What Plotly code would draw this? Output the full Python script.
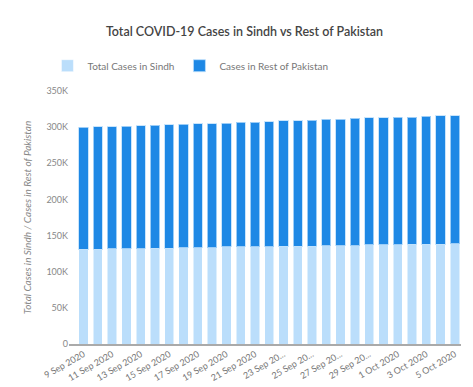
import plotly.graph_objects as go

dates = ["9 Sep 2020", "10 Sep 2020", "11 Sep 2020", "12 Sep 2020", "13 Sep 2020",
         "14 Sep 2020", "15 Sep 2020", "16 Sep 2020", "17 Sep 2020", "18 Sep 2020",
         "19 Sep 2020", "20 Sep 2020", "21 Sep 2020", "22 Sep 2020", "23 Sep 2020",
         "24 Sep 2020", "25 Sep 2020", "26 Sep 2020", "27 Sep 2020", "28 Sep 2020",
         "29 Sep 2020", "30 Sep 2020", "1 Oct 2020", "2 Oct 2020", "3 Oct 2020",
         "4 Oct 2020", "5 Oct 2020"]

sindh_cases = [131000, 131100, 131900, 132000, 132100, 132200, 132300, 133300, 133400,
               133500, 134200, 134300, 134400, 134500, 135100, 135200, 135300, 135600,
               135700, 135800, 137300, 137400, 137500, 137800, 137900, 138000, 138800]

total_cases = [299700, 300500, 300600, 301500, 301600, 302900, 303000, 303800, 304700,
               304800, 305600, 306900, 307000, 307800, 308700, 308800, 309600, 310900,
               311000, 312300, 312700, 312800, 313600, 313700, 315000, 315900, 316000]

rest_cases = [t - s for t, s in zip(total_cases, sindh_cases)]

tick_dates = dates[::2]
tick_labels = ["9 Sep 2020", "11 Sep 2020", "13 Sep 2020", "15 Sep 2020", "17 Sep 2020",
               "19 Sep 2020", "21 Sep 2020", "23 Sep 20...", "25 Sep 20...", "27 Sep 20...",
               "29 Sep 20...", "1 Oct 2020", "3 Oct 2020", "5 Oct 2020"]

y_tick_vals = [0, 50000, 100000, 150000, 200000, 250000, 300000, 350000]
y_tick_text = ["0", "50K", "100K", "150K", "200K", "250K", "300K", "350K"]

font_family = "Lato, 'Open Sans', sans-serif"

fig = go.Figure()
fig.add_trace(go.Bar(
    x=dates, y=sindh_cases, name="Total Cases in Sindh",
    marker=dict(color="#bbdefb", line=dict(color="rgba(255,255,255,0.5)", width=1)),
))
fig.add_trace(go.Bar(
    x=dates, y=rest_cases, name="Cases in Rest of Pakistan",
    marker=dict(color="#1e88e5", line=dict(color="rgba(187,222,251,0.8)", width=1)),
))

fig.update_layout(
    barmode="stack",
    bargap=0.35,
    width=473, height=387,
    paper_bgcolor="white", plot_bgcolor="white",
    margin=dict(l=61, r=20, t=83, b=44),
    font=dict(family=font_family, color="#777", size=9),
    title=dict(text="Total COVID-19 Cases in Sindh vs Rest of Pakistan",
               x=0.5, xanchor="center", y=0.94, yanchor="middle",
               font=dict(size=12.5, color="#444", family=font_family, weight=600)),
    legend=dict(orientation="h", x=-0.055, xanchor="left", y=1.1, yanchor="middle",
                font=dict(size=10, color="#777"), itemwidth=30,
                traceorder="normal"),
    showlegend=True,
)

fig.update_xaxes(
    type="category",
    range=[-1.02, 26.43],
    tickmode="array", tickvals=tick_dates, ticktext=tick_labels,
    tickangle=-30, tickfont=dict(size=9, color="#777"),
    showline=True, linecolor="#aaa", linewidth=1.5,
    showgrid=False, ticks="",
)
fig.update_yaxes(
    range=[0, 350000],
    tickmode="array", tickvals=y_tick_vals, ticktext=y_tick_text,
    tickfont=dict(size=9, color="#888"),
    showgrid=False, zeroline=False, showline=False,
    title=dict(text="<i>Total Cases in Sindh / Cases in Rest of Pakistan</i>",
               font=dict(size=10, color="#888"), standoff=12),
)

fig.write_html("out.html")
